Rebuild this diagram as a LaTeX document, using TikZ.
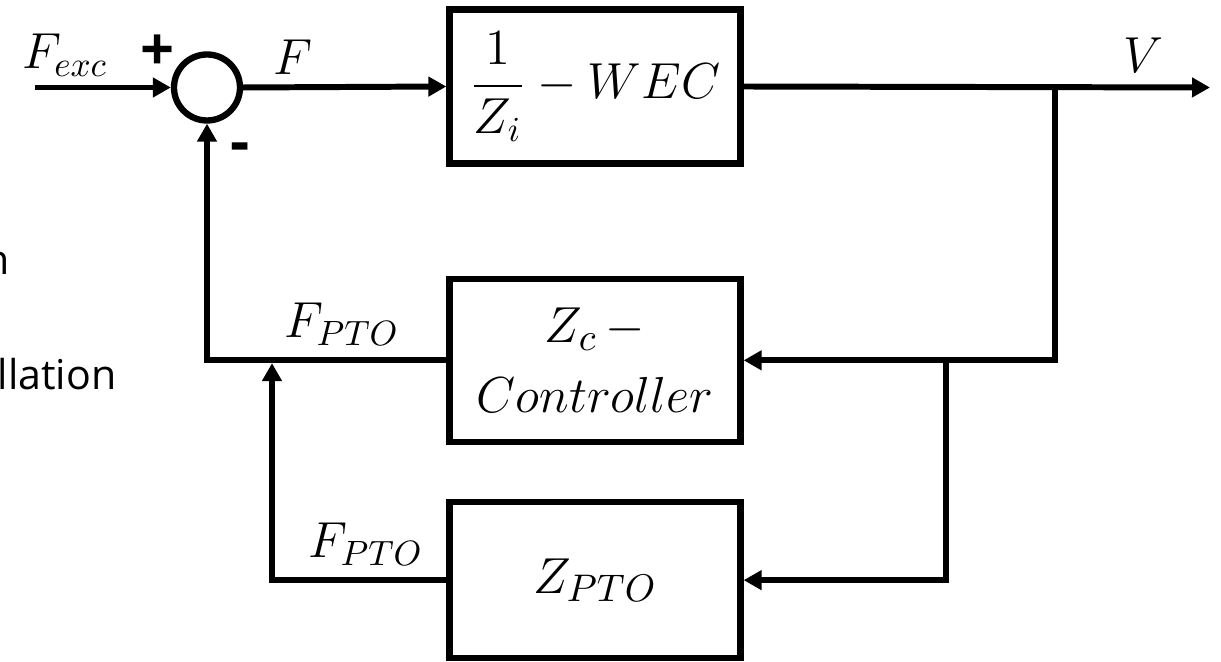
\documentclass[tikz,border=0pt]{standalone}
\usepackage{fontspec}
\usepackage{tikz}
\usetikzlibrary{arrows.meta, positioning, calc}
\newfontfamily\osans{Open Sans}
\tikzset{
  block/.style={rectangle, draw, line width=1.8pt, inner sep=0pt,
                minimum width=2.91cm, minimum height=1.56cm, align=center,
                font=\fontsize{15}{20}\selectfont},
  sumnode/.style={circle, draw, line width=1.8pt, minimum size=0.66cm, inner sep=0pt},
  sig/.style={font=\fontsize{14.5}{17}\selectfont, inner sep=0pt},
  sign/.style={font=\osans\bfseries\fontsize{17}{20}\selectfont, inner sep=0pt},
  arrow/.style={-{Triangle[length=0.18cm, width=0.19cm]}, line width=1.7pt},
  line/.style={line width=1.7pt}
}
\begin{document}
\begin{tikzpicture}[node distance=1.09cm and 2.0cm]
  \useasboundingbox (0,0) rectangle (12.21,-6.62);
  \clip (0,0) rectangle (12.21,-6.62);

  % Cut-off text at the left
  \node[font=\osans\fontsize{11.7}{14}\selectfont, inner sep=0pt, anchor=base east] (cuta) at (0.10,-2.75) {n};
  \node[font=\osans\fontsize{11.7}{14}\selectfont, inner sep=0pt, anchor=base west] (cutb) at (-0.03,-3.90) {llation};

  % Summing junction and WEC
  \node[sumnode] (sum) at (2.07,-0.875) {};
  \node[block, minimum height=1.54cm, font=\fontsize{14}{18}\selectfont] (wec) at (5.95,-0.865) {$\displaystyle\frac{1}{Z_i}-WEC$};
  \coordinate (in) at (0.35,-0.875);
  \coordinate (out) at (12.10,-0.875);
  \draw[arrow] (in) -- (sum.west);
  \draw[arrow] (sum.east) -- (wec.west);
  \draw[arrow] (wec.east) -- (out);

  % Controller and PTO
  \node[block, minimum height=1.63cm, below=of wec] (ctrl) {$Z_c\,-$\\$Controller$};
  \node[block, below=0.54cm of ctrl] (pto) {$Z_{PTO}$};

  \coordinate (b1) at (10.55,0);
  \coordinate (b2) at (9.46,0);
  \coordinate (j) at (2.72,0);
  \draw[arrow] (b1 |- wec.east) -- (b1 |- ctrl.east) -- (ctrl.east);
  \draw[arrow] (b2 |- ctrl.east) -- (b2 |- pto.east) -- (pto.east);

  % Feedback paths
  \draw[arrow] (ctrl.west) -- (sum |- ctrl.west) -- (sum.south);
  \draw[arrow, shorten >=0.8pt] (pto.west) -- (j |- pto.west) -- (j |- ctrl.west);

  % Labels
  \node[sig] (fexc) at (0.65,-0.55) {$F_{exc}$};
  \node[sign] (plus) at (1.58,-0.53) {+};
  \node[sign] (minus) at (2.40,-1.53) {-};
  \node[sig] (f) at (2.93,-0.57) {$F$};
  \node[sig] (v) at (11.43,-0.55) {$V$};
  \node[sig] (fpto1) at (3.42,-3.24) {$F_{PTO}$};
  \node[sig] (fpto2) at (3.66,-5.44) {$F_{PTO}$};
\end{tikzpicture}
\end{document}
